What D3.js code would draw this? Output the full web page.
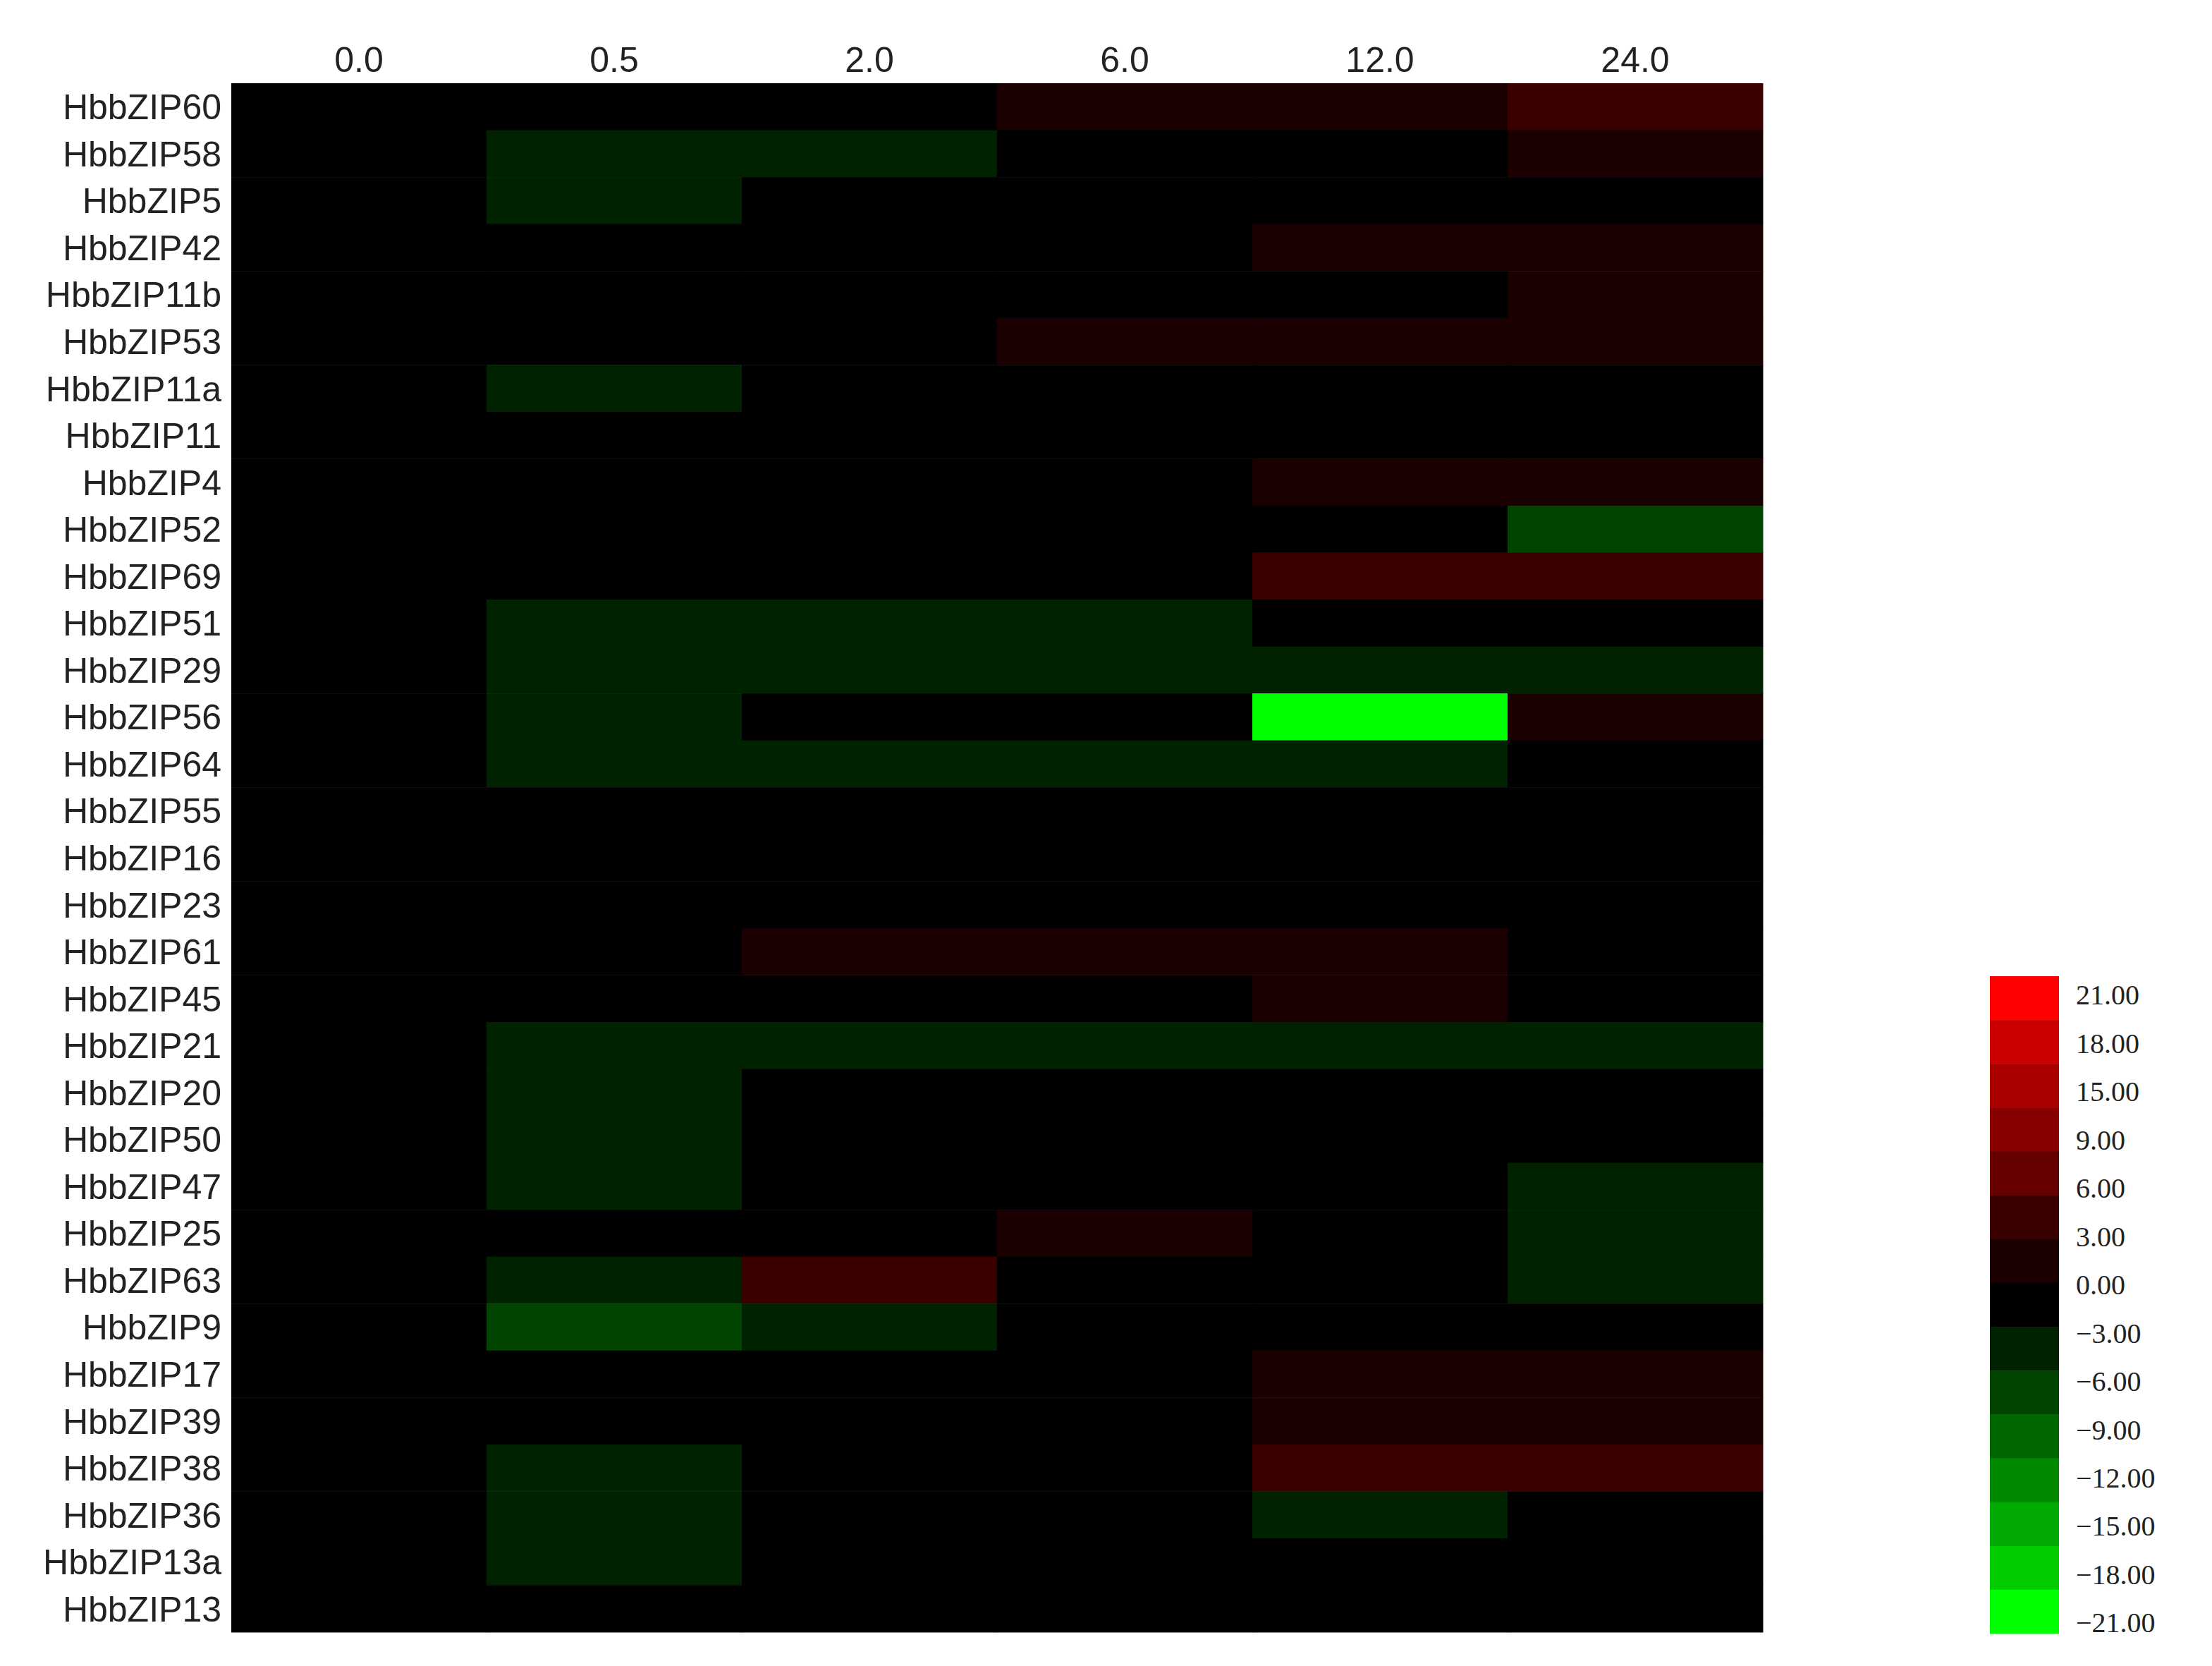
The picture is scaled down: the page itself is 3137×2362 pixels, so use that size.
<!DOCTYPE html><html><head><meta charset="utf-8"><script src="https://cdn.jsdelivr.net/npm/d3@7"></script>
<style>body{margin:0;background:#fff}</style></head><body><svg id="c" width="3137" height="2362"></svg>
<script>
const timepoints=["0.0","0.5","2.0","6.0","12.0","24.0"];
const genes=["HbbZIP60","HbbZIP58","HbbZIP5","HbbZIP42","HbbZIP11b","HbbZIP53","HbbZIP11a","HbbZIP11","HbbZIP4","HbbZIP52","HbbZIP69","HbbZIP51","HbbZIP29","HbbZIP56","HbbZIP64","HbbZIP55","HbbZIP16","HbbZIP23","HbbZIP61","HbbZIP45","HbbZIP21","HbbZIP20","HbbZIP50","HbbZIP47","HbbZIP25","HbbZIP63","HbbZIP9","HbbZIP17","HbbZIP39","HbbZIP38","HbbZIP36","HbbZIP13a","HbbZIP13"];
const values=[
[0,0,0,2,2,4],[0,-2,-2,0,0,2],[0,-2,0,0,0,0],[0,0,0,0,2,2],[0,0,0,0,0,2],[0,0,0,2,2,2],
[0,-2,0,0,0,0],[0,0,0,0,0,0],[0,0,0,0,2,2],[0,0,0,0,0,-6],[0,0,0,0,4,4],[0,-2,-2,-2,0,0],
[0,-2,-2,-2,-2,-2],[0,-2,0,0,-21,2],[0,-2,-2,-2,-2,0],[0,0,0,0,0,0],[0,0,0,0,0,0],[0,0,0,0,0,0],
[0,0,2,2,2,0],[0,0,0,0,2,0],[0,-2,-2,-2,-2,-2],[0,-2,0,0,0,0],[0,-2,0,0,0,0],[0,-2,0,0,0,-2],
[0,0,0,2,0,-2],[0,-2,4,0,0,-2],[0,-6,-2,0,0,0],[0,0,0,0,2,2],[0,0,0,0,2,2],[0,-2,0,0,4,4],
[0,-2,0,0,-2,0],[0,-2,0,0,0,0],[0,0,0,0,0,0]];
const legendLabels=["21.00","18.00","15.00","9.00","6.00","3.00","0.00","\u22123.00","\u22126.00","\u22129.00","\u221212.00","\u221215.00","\u221218.00","\u221221.00"];
const binColors=["#00ff00","#00cc00","#00aa00","#008800","#006600","#004400","#002200","#000000","#1a0000","#3a0000","#660000","#880000","#aa0000","#cc0000","#ff0000"];
const thresholds=[-19.5,-16.5,-13.5,-10.5,-7.5,-4.5,-1,1,3,4.5,7.5,12,16.5,19.5];
const color=d3.scaleThreshold().domain(thresholds).range(binColors);
const svg=d3.select("#c");
const x=d3.scaleBand().domain(timepoints).range([328,2500]);
const y=d3.scaleBand().domain(genes).range([118,2314]);
genes.forEach((g,i)=>timepoints.forEach((t,j)=>{
 svg.append("rect").attr("x",x(t)).attr("y",y(g)).attr("width",x.bandwidth()+0.5).attr("height",y.bandwidth()+0.5).attr("fill",color(values[i][j]));
}));
svg.selectAll(".cl").data(timepoints).join("text").attr("x",d=>x(d)+x.bandwidth()/2).attr("y",102)
 .attr("text-anchor","middle").attr("font-family","Liberation Sans, Arial").attr("font-size",50).attr("fill","#222").text(d=>d);
svg.selectAll(".rl").data(genes).join("text").attr("x",314).attr("y",d=>y(d)+y.bandwidth()/2).attr("dy","0.36em")
 .attr("text-anchor","end").attr("font-family","Liberation Sans, Arial").attr("font-size",50).attr("fill","#222").text(d=>d);
const ly=d3.scaleBand().domain(d3.range(binColors.length)).range([1384,2316]);
binColors.slice().reverse().forEach((c,i)=>svg.append("rect").attr("x",2822).attr("y",ly(i)).attr("width",98).attr("height",ly.bandwidth()+0.5).attr("fill",c));
const lt=d3.scalePoint().domain(legendLabels).range([1410,2300]);
svg.selectAll(".ll").data(legendLabels).join("text").attr("x",2944).attr("y",d=>lt(d)).attr("dy","0.36em")
 .attr("font-family","Liberation Serif, Times New Roman").attr("font-size",40).attr("fill","#222").text(d=>d);
</script></body></html>
